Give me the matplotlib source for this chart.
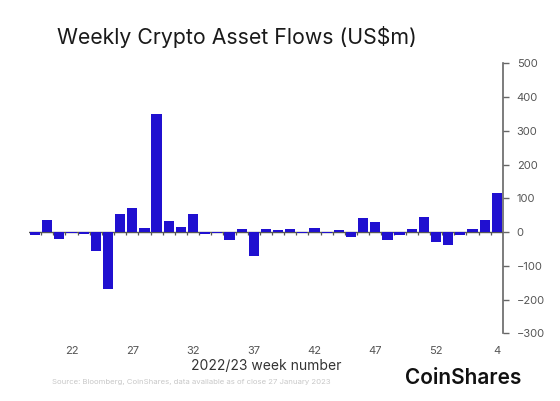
import numpy as np
import matplotlib
matplotlib.use("Agg")
import matplotlib.pyplot as plt

# week numbers (Excel-style numbering, 2022 runs to week 53)
weeks = list(range(19, 54)) + [1, 2, 3, 4]
flows = [-10, 35, -22, -2, -6, -55, -168, 55, 72, 13,
         350, 32, 15, 55, -7, -3, -24, 10, -72, 8,
         6, 9, -2, 11, -3, 5, -15, 41, 31, -23,
         -8, 9, 44, -28, -38, -10, 8, 36, 117]
tick_weeks = [22, 27, 32, 37, 42, 47, 52, 4]
y_ticks = [500, 400, 300, 200, 100, 0, -100, -200, -300]

plt.rcParams['font.family'] = ['Inter', 'DejaVu Sans']

fig = plt.figure(figsize=(5.6, 4.01), dpi=100)
ax = fig.add_axes([0.0518, 0.1688, 0.8462, 0.6733])

x = np.arange(len(weeks))
ax.bar(x, flows, width=0.84, color='#2010d0', zorder=3)

# zero line with little ticks between bars
ax.axhline(0, color='#555555', lw=1.0, zorder=2)
edges = np.arange(len(weeks) + 1) - 0.5
ax.vlines(edges[1:-1], -9, 0, color='#555555', lw=0.9, zorder=2)

ax.set_xlim(-0.5, len(weeks) - 0.5)
ax.set_ylim(-300, 500)

pos = [len(weeks) - 1 - weeks[::-1].index(w) if w == 4 else weeks.index(w) for w in tick_weeks]
ax.set_xticks(pos)
ax.set_xticklabels([str(w) for w in tick_weeks])
ax.tick_params(axis='x', length=0, pad=9, labelsize=8, labelcolor='#555555')

ax.yaxis.tick_right()
ax.set_yticks(y_ticks)
ax.tick_params(axis='y', direction='out', length=4, width=1, color='#666666',
               labelsize=8, labelcolor='#555555', pad=6)

for s in ['top', 'left', 'bottom']:
    ax.spines[s].set_visible(False)
ax.spines['right'].set_color('#666666')
ax.spines['right'].set_linewidth(1.2)

ax.set_xlabel('2022/23 week number', fontsize=10, color='#333333', labelpad=2)

fig.text(0.102, 0.907, 'Weekly Crypto Asset Flows (US$m)', fontsize=15.3,
         color='#1a1a1a', va='center', ha='left')
fig.text(0.093, 0.047, 'Source: Bloomberg, CoinShares, data available as of close 27 January 2023',
         fontsize=5.6, color='#c8c8c8', va='center', ha='left')
fig.text(0.724, 0.058, 'CoinShares', fontsize=15, color='#111111',
         fontweight='semibold', va='center', ha='left')

fig.savefig('out.png', dpi=100, facecolor='white')
